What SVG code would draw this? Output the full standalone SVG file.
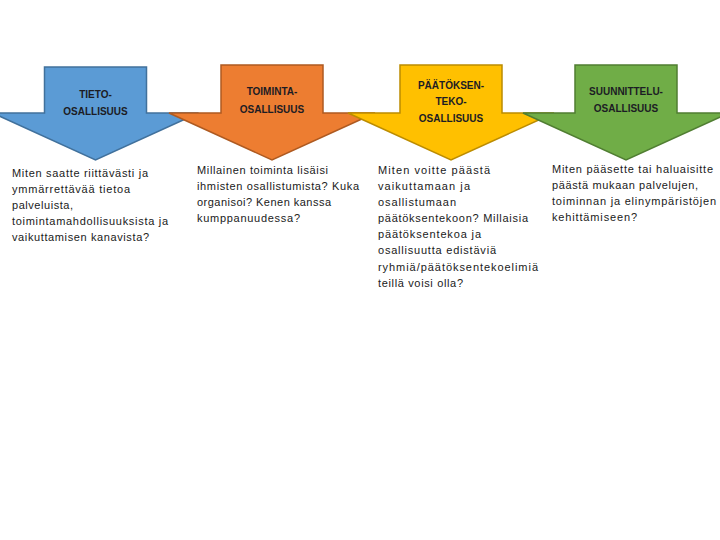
<svg xmlns="http://www.w3.org/2000/svg" width="720" height="540" viewBox="0 0 720 540">
<style>
.arrow{stroke-width:1.5;stroke-linejoin:miter}
.lbl{font-family:"Liberation Sans",Arial,sans-serif;font-size:10px;font-weight:bold;fill:#1c1c24;text-anchor:middle}
.body{font-family:"Liberation Sans",Arial,sans-serif;font-size:11px;fill:#1a1a1a}
</style>
<rect width="720" height="540" fill="#ffffff"/>
<g id="tieto">
<path class="arrow" fill="#5B9BD5" stroke="#41719C" d="M44.5,67 H146.5 V113 H198.5 L95.5,160 L-7.5,113 H44.5 Z"/>
<text class="lbl" x="95.5" y="98">TIETO-</text>
<text class="lbl" x="95.5" y="115">OSALLISUUS</text>
<text class="body" x="12" y="177" textLength="136" lengthAdjust="spacing">Miten saatte riittävästi ja</text>
<text class="body" x="12" y="193" textLength="118" lengthAdjust="spacing">ymmärrettävää tietoa</text>
<text class="body" x="12" y="209" textLength="61" lengthAdjust="spacing">palveluista,</text>
<text class="body" x="12" y="225" textLength="156" lengthAdjust="spacing">toimintamahdollisuuksista ja</text>
<text class="body" x="12" y="241" textLength="137" lengthAdjust="spacing">vaikuttamisen kanavista?</text>
</g>
<g id="toiminta">
<path class="arrow" fill="#ED7D31" stroke="#AE5A21" d="M221,65 H323 V113 H375 L272,160 L169,113 H221 Z"/>
<text class="lbl" x="272" y="95">TOIMINTA-</text>
<text class="lbl" x="272" y="113">OSALLISUUS</text>
<text class="body" x="197" y="174" textLength="131" lengthAdjust="spacing">Millainen toiminta lisäisi</text>
<text class="body" x="197" y="190" textLength="162" lengthAdjust="spacing">ihmisten osallistumista? Kuka</text>
<text class="body" x="197" y="206" textLength="134" lengthAdjust="spacing">organisoi? Kenen kanssa</text>
<text class="body" x="197" y="222" textLength="103" lengthAdjust="spacing">kumppanuudessa?</text>
</g>
<g id="paatoksenteko">
<path class="arrow" fill="#FFC000" stroke="#BC8C00" d="M400,65 H502 V113 H554 L451,160 L348,113 H400 Z"/>
<text class="lbl" x="451" y="89">PÄÄTÖKSEN-</text>
<text class="lbl" x="451" y="105">TEKO-</text>
<text class="lbl" x="451" y="122">OSALLISUUS</text>
<text class="body" x="378" y="174" textLength="112" lengthAdjust="spacing">Miten voitte päästä</text>
<text class="body" x="378" y="190" textLength="92" lengthAdjust="spacing">vaikuttamaan ja</text>
<text class="body" x="378" y="206" textLength="78" lengthAdjust="spacing">osallistumaan</text>
<text class="body" x="378" y="222" textLength="150" lengthAdjust="spacing">päätöksentekoon? Millaisia</text>
<text class="body" x="378" y="238" textLength="103" lengthAdjust="spacing">päätöksentekoa ja</text>
<text class="body" x="378" y="254" textLength="118" lengthAdjust="spacing">osallisuutta edistäviä</text>
<text class="body" x="378" y="271" textLength="160" lengthAdjust="spacing">ryhmiä/päätöksentekoelimiä</text>
<text class="body" x="378" y="287" textLength="85" lengthAdjust="spacing">teillä voisi olla?</text>
</g>
<g id="suunnittelu">
<path class="arrow" fill="#70AD47" stroke="#507E32" d="M575,65 H677 V113 H729 L626,160 L523,113 H575 Z"/>
<text class="lbl" x="626" y="95">SUUNNITTELU-</text>
<text class="lbl" x="626" y="112">OSALLISUUS</text>
<text class="body" x="552" y="173" textLength="161" lengthAdjust="spacing">Miten pääsette tai haluaisitte</text>
<text class="body" x="552" y="189" textLength="146" lengthAdjust="spacing">päästä mukaan palvelujen,</text>
<text class="body" x="552" y="205" textLength="164" lengthAdjust="spacing">toiminnan ja elinympäristöjen</text>
<text class="body" x="552" y="221" textLength="85" lengthAdjust="spacing">kehittämiseen?</text>
</g>
<g id="connectors"/>
</svg>
